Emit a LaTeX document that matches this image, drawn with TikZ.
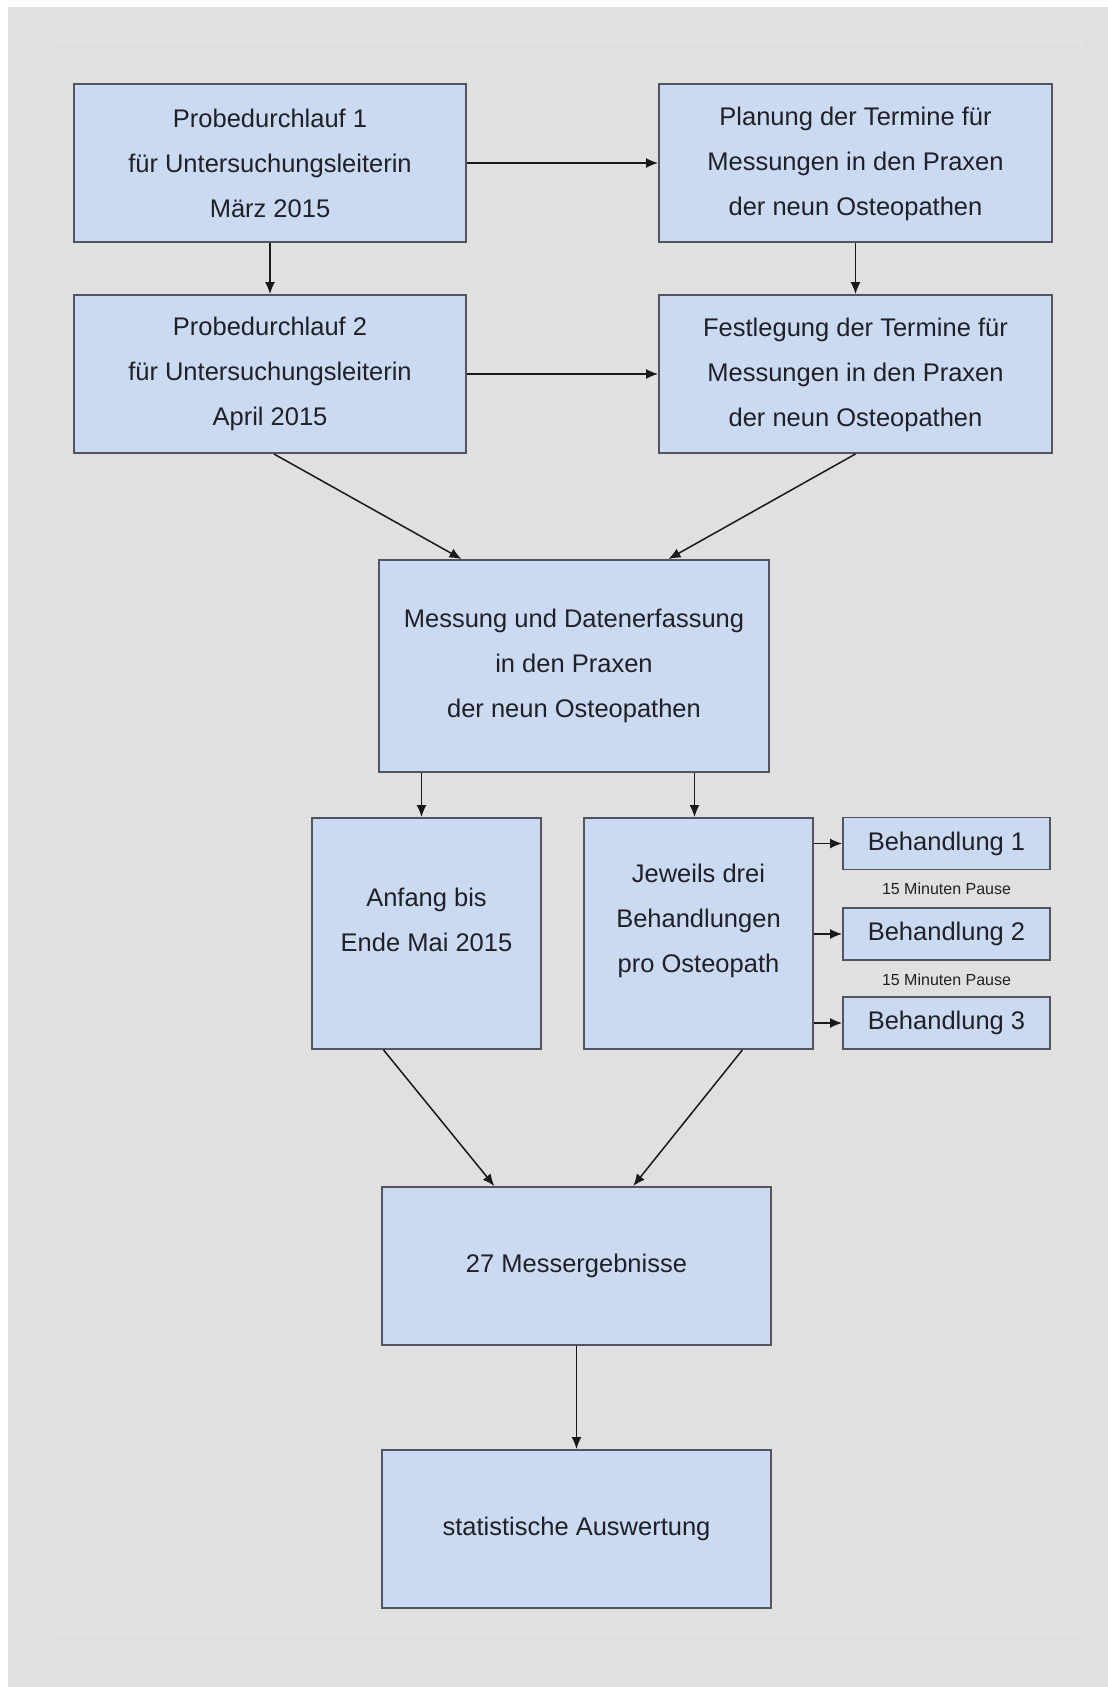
\documentclass[tikz,border=0pt]{standalone}
\usepackage{fontspec}
\setmainfont{Liberation Sans}
\usetikzlibrary{arrows.meta,calc}
\definecolor{bgc}{RGB}{224,224,224}
\definecolor{panel}{RGB}{230,230,230}
\definecolor{boxfill}{RGB}{201,218,242}
\definecolor{boxdraw}{RGB}{80,85,95}
\definecolor{txt}{RGB}{32,32,38}
\begin{document}
\begin{tikzpicture}[x=1pt,y=-1pt,
  box/.style={draw=boxdraw, line width=1.9pt, fill=boxfill, inner sep=0pt, align=center, text=txt, font=\fontsize{25.5}{45}\selectfont},
  boxtext/.style={inner sep=0pt, align=center, text=txt, font=\fontsize{25.5}{45}\selectfont},
  pause/.style={inner sep=0pt, text=txt, font=\fontsize{16}{18}\selectfont},
  arr/.style={-{Latex[length=12pt,width=10pt]}, line width=1.5pt, black!90},
]
\useasboundingbox (0,0) rectangle (1108,1687);
\fill[white] (0,0) rectangle (1108,1687);
\fill[bgc] (8,7) rectangle (1108,1687);
\draw[panel, line width=1pt] (50,40) rectangle (1082,1632);

\node[box, minimum width=392pt, minimum height=158pt] (p1) at (270,163) {Probedurchlauf 1\\für Untersuchungsleiterin\\März 2015};
\node[box, minimum width=393pt, minimum height=158pt] (plan) at (855.5,163) {};
\node[boxtext] (planT) at (855.5,164) {Planung der Termine für\\Messungen in den Praxen\\der neun Osteopathen};
\node[box, minimum width=392pt, minimum height=158pt] (p2) at (270,374) {Probedurchlauf 2\\für Untersuchungsleiterin\\April 2015};
\node[box, minimum width=393pt, minimum height=158pt] (fest) at (855.5,374) {};
\node[boxtext] (festT) at (855.5,375) {Festlegung der Termine für\\Messungen in den Praxen\\der neun Osteopathen};
\node[box, minimum width=390pt, minimum height=212pt] (mess) at (574,666) {Messung und Datenerfassung\\in den Praxen\\der neun Osteopathen};
\node[box, minimum width=229pt, minimum height=231pt] (anf) at (426.5,933.5) {};
\node[boxtext] (anfT) at (426.5,920) {Anfang bis\\Ende Mai 2015};
\node[box, minimum width=229pt, minimum height=231pt] (jew) at (698.5,933.5) {};
\node[boxtext] (jewT) at (698.5,921) {Jeweils drei\\Behandlungen\\pro Osteopath};
\node[box, minimum width=207pt, minimum height=52pt] (b1) at (946.5,843.5) {Behandlung 1};
\node[box, minimum width=207pt, minimum height=52pt] (b2) at (946.5,934) {Behandlung 2};
\node[box, minimum width=207pt, minimum height=52pt] (b3) at (946.5,1023) {Behandlung 3};
\node[pause] (pz1) at (946.5,889) {15 Minuten Pause};
\node[pause] (pz2) at (946.5,980) {15 Minuten Pause};
\node[box, minimum width=389pt, minimum height=158pt] (msg) at (576.5,1266) {27 Messergebnisse};
\node[box, minimum width=389pt, minimum height=158pt] (stat) at (576.5,1529) {statistische Auswertung};

\draw[arr] (p1.east) -- (plan.west);
\draw[arr] (p2.east) -- (fest.west);
\draw[arr] (p1) -- (p2);
\draw[arr] (plan) -- (fest);
\draw[arr] ($(p2.south west)!0.51!(p2.south east)$) -- ($(mess.north west)!0.213!(mess.north east)$);
\draw[arr] ($(fest.south west)!0.5!(fest.south east)$) -- ($(mess.north west)!0.741!(mess.north east)$);
\coordinate (ma) at ([xshift=-5pt]anf.north);
\coordinate (mj) at ([xshift=-4pt]jew.north);
\draw[arr] (ma |- mess.south) -- (ma);
\draw[arr] (mj |- mess.south) -- (mj);
\draw[arr] (jew.east |- b1) -- (b1.west);
\draw[arr] (jew.east |- b2) -- (b2.west);
\draw[arr] (jew.east |- b3) -- (b3.west);
\draw[arr] ($(anf.south west)!0.314!(anf.south east)$) -- ($(msg.north west)!0.29!(msg.north east)$);
\draw[arr] ($(jew.south west)!0.69!(jew.south east)$) -- ($(msg.north west)!0.645!(msg.north east)$);
\draw[arr] (msg) -- (stat);
\end{tikzpicture}
\end{document}
